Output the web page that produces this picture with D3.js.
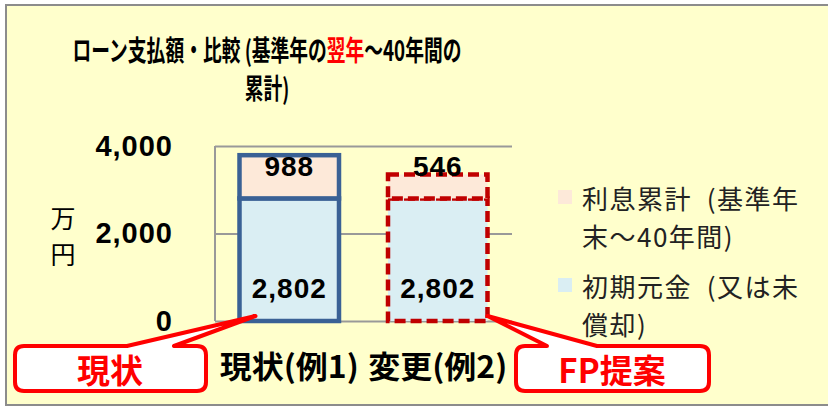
<!DOCTYPE html>
<html>
<head>
<meta charset="utf-8">
<script src="https://cdn.jsdelivr.net/npm/d3@7"></script>
<style>
    html, body { margin: 0; padding: 0; background: #ffffff; }
    svg { display: block; }
</style>
</head>
<body>
<div id="chart"></div>
<script>
// Chart data
const categories = ['現状(例1)', '変更(例2)'];
const principal = [2802, 2802];   // 初期元金
const interest = [988, 546];      // 利息累計
const yTicks = [0, 2000, 4000];
const legendInterest = ['利息累計  (基準年', '末〜40年間)'];
const legendPrincipal = ['初期元金  (又は未', '償却)'];
const callouts = ['現状', 'FP提案'];

const W = 828, H = 407;
const JP = '"Noto Sans CJK JP", "Noto Sans", sans-serif';
const NUM = '"Liberation Sans", Arial, sans-serif';

const svg = d3.select('#chart')
    .append('svg')
    .attr('width', W)
    .attr('height', H);

// Chart area background + frame
svg.append('rect')
    .attr('x', 6).attr('y', 5)
    .attr('width', W + 20).attr('height', 400)
    .attr('fill', '#ffffcc')
    .attr('stroke', '#8c8c8c')
    .attr('stroke-width', 2);

// Plot area
const plot = { left: 215, right: 512, top: 146, bottom: 321 };

const x = d3.scaleBand()
    .domain(categories)
    .range([plot.left, plot.right])
    .paddingInner(0.33)
    .paddingOuter(0.165);

const y = d3.scaleLinear()
    .domain([0, 4000])
    .range([plot.bottom, plot.top]);

// Grid lines
svg.append('g')
    .attr('transform', `translate(${plot.left},0)`)
    .call(d3.axisLeft(y).tickValues(yTicks).tickSize(-(plot.right - plot.left)).tickFormat(''))
    .call(g => g.select('.domain').remove())
    .selectAll('line')
    .attr('stroke', '#999999')
    .attr('stroke-width', 2);

// left edge of plot area
svg.append('line')
    .attr('x1', plot.left).attr('x2', plot.left)
    .attr('y1', y(4000)).attr('y2', y(0))
    .attr('stroke', '#999999')
    .attr('stroke-width', 2);

// Y tick labels
svg.append('g')
    .attr('transform', `translate(${plot.left},0)`)
    .call(d3.axisLeft(y).tickValues(yTicks).tickSize(0).tickPadding(42).tickFormat(d3.format(',')))
    .call(g => g.select('.domain').remove())
    .selectAll('text')
    .attr('fill', '#000')
    .style('font-family', NUM)
    .style('font-weight', 'bold')
    .style('font-size', '29px')
    .style('letter-spacing', '1px');

// Y axis title (vertical)
['万', '円'].forEach((ch, i) => {
    svg.append('text')
        .attr('x', 63).attr('y', 217 + i * 36)
        .attr('text-anchor', 'middle')
        .attr('dominant-baseline', 'central')
        .style('font-family', JP)
        .style('font-size', '25px')
        .attr('fill', '#000')
        .text(ch);
});

// Bars
const barStyles = [
    { stroke: '#3a6195', dash: null },
    { stroke: '#c00000', dash: '11,5' }
];

categories.forEach((c, i) => {
    const bx = x(c), bw = x.bandwidth();
    const st = barStyles[i];
    const total = principal[i] + interest[i];

    // principal (bottom)
    svg.append('rect')
        .attr('x', bx).attr('y', y(principal[i]))
        .attr('width', bw).attr('height', y(0) - y(principal[i]))
        .attr('fill', '#daeef3')
        .attr('stroke', st.stroke)
        .attr('stroke-width', 4.5)
        .attr('stroke-dasharray', st.dash);

    // interest (top)
    svg.append('rect')
        .attr('x', bx).attr('y', y(total))
        .attr('width', bw).attr('height', y(principal[i]) - y(total))
        .attr('fill', '#fde9d9')
        .attr('stroke', st.stroke)
        .attr('stroke-width', 4.5)
        .attr('stroke-dasharray', st.dash);

    // data labels
    svg.append('text')
        .attr('x', bx + bw / 2).attr('y', y(0) - 33)
        .attr('text-anchor', 'middle')
        .attr('dominant-baseline', 'central')
        .style('font-family', NUM)
        .style('font-weight', 'bold')
        .style('font-size', '28px')
        .style('letter-spacing', '1px')
        .attr('fill', '#000')
        .text(d3.format(',')(principal[i]));

    svg.append('text')
        .attr('x', bx + bw / 2).attr('y', y(4000) + 20)
        .attr('text-anchor', 'middle')
        .attr('dominant-baseline', 'central')
        .style('font-family', NUM)
        .style('font-weight', 'bold')
        .style('font-size', '28px')
        .style('letter-spacing', '1px')
        .attr('fill', '#000')
        .text(d3.format(',')(interest[i]));

    // category labels
    svg.append('text')
        .attr('x', bx + bw / 2).attr('y', 364)
        .attr('text-anchor', 'middle')
        .attr('dominant-baseline', 'central')
        .attr('textLength', 139)
        .attr('lengthAdjust', 'spacingAndGlyphs')
        .style('font-family', JP)
        .style('font-weight', 'bold')
        .style('font-size', '31px')
        .attr('fill', '#000')
        .text(c);
});

// Title - squeezed horizontally to match the condensed original font
const titleG = svg.append('g');
const title = titleG.append('text')
    .attr('x', 0).attr('y', 48)
    .attr('text-anchor', 'middle')
    .attr('dominant-baseline', 'central')
    .style('font-family', JP)
    .style('font-weight', 'bold')
    .style('font-size', '28px')
    .attr('fill', '#000');
title.append('tspan').text('ローン支払額・比較 (基準年の');
title.append('tspan').attr('fill', '#ff0000').text('翌年');
title.append('tspan').text('〜40年間の');

titleG.append('text')
    .attr('x', 0).attr('y', 87)
    .attr('text-anchor', 'middle')
    .attr('dominant-baseline', 'central')
    .style('font-family', JP)
    .style('font-weight', 'bold')
    .style('font-size', '28px')
    .attr('fill', '#000')
    .text('累計)');

const titleW = title.node().getBBox().width;
titleG.attr('transform', `translate(267,0) scale(${389 / titleW},1)`);

// Legend
const legend = [
    { fill: '#fde9d9', lines: legendInterest, y0: 197 },
    { fill: '#daeef3', lines: legendPrincipal, y0: 285 }
];
legend.forEach(item => {
    svg.append('rect')
        .attr('x', 558).attr('y', item.y0 - 7)
        .attr('width', 14).attr('height', 14)
        .attr('fill', item.fill);
    item.lines.forEach((line, j) => {
        svg.append('text')
            .attr('x', 582).attr('y', item.y0 + j * 38)
            .attr('dominant-baseline', 'central')
            .style('font-family', JP)
            .style('font-size', '26px')
            .style('letter-spacing', '1.5px')
            .style('white-space', 'pre')
            .attr('fill', '#222')
            .text(line);
    });
});

// Callouts pointing at the bars
function calloutPath(x0, y0, x1, y1, r, a, b, tx, ty) {
    return `M${x0 + r},${y0} L${a},${y0} L${tx},${ty} L${b},${y0} L${x1 - r},${y0} ` +
        `Q${x1},${y0} ${x1},${y0 + r} L${x1},${y1 - r} Q${x1},${y1} ${x1 - r},${y1} ` +
        `L${x0 + r},${y1} Q${x0},${y1} ${x0},${y1 - r} L${x0},${y0 + r} Q${x0},${y0} ${x0 + r},${y0} Z`;
}

const calloutBoxes = [
    { x0: 15, x1: 206, a: 127, b: 174, tx: x(categories[0]) + 16, cx: 110 },
    { x0: 516, x1: 709, a: 547, b: 597, tx: x(categories[1]) + x.bandwidth(), cx: 612 }
];
calloutBoxes.forEach((cb, i) => {
    svg.append('path')
        .attr('d', calloutPath(cb.x0, 346, cb.x1, 391, 9, cb.a, cb.b, cb.tx, y(0) - 5))
        .attr('fill', '#ffffff')
        .attr('stroke', '#ff0000')
        .attr('stroke-width', 4)
        .attr('stroke-linejoin', 'round');
    svg.append('text')
        .attr('x', cb.cx).attr('y', 369)
        .attr('text-anchor', 'middle')
        .attr('dominant-baseline', 'central')
        .style('font-family', JP)
        .style('font-weight', 'bold')
        .style('font-size', '33px')
        .attr('fill', '#ff0000')
        .text(callouts[i]);
});
</script>
</body>
</html>
